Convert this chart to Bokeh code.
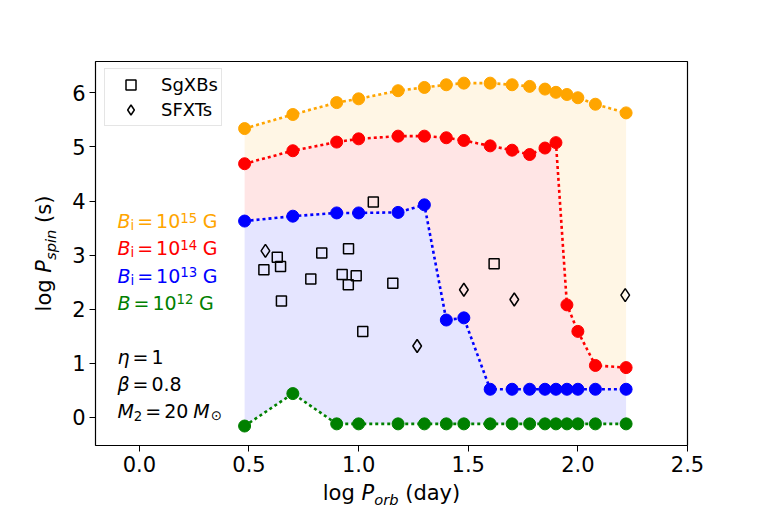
from bokeh.plotting import figure
from bokeh.models import (Label, Legend, LegendItem, FixedTicker, Range1d,
                          LinearAxis, BoxAnnotation)
from bokeh.embed import file_html
from bokeh.resources import INLINE

# ---------------- data ----------------
log_porb = [0.48, 0.70, 0.90, 1.00, 1.18, 1.30, 1.40, 1.48, 1.60, 1.70,
            1.78, 1.85, 1.90, 1.95, 2.00, 2.08, 2.22]
pspin_B15 = [5.34, 5.60, 5.82, 5.89, 6.04, 6.10, 6.15, 6.18, 6.18, 6.15,
             6.12, 6.07, 6.01, 5.97, 5.91, 5.79, 5.63]
pspin_B14 = [4.69, 4.93, 5.09, 5.15, 5.20, 5.20, 5.17, 5.12, 5.02, 4.94,
             4.86, 4.98, 5.08, 2.08, 1.59, 0.96, 0.92]
pspin_B13 = [3.63, 3.72, 3.78, 3.78, 3.79, 3.93, 1.80, 1.84, 0.52, 0.52,
             0.52, 0.52, 0.52, 0.52, 0.52, 0.52, 0.52]
pspin_B12 = [-0.16, 0.44, -0.12, -0.12, -0.12, -0.12, -0.12, -0.12, -0.12, -0.12,
             -0.12, -0.12, -0.12, -0.12, -0.12, -0.12, -0.12]

sgxb_porb = [0.568, 0.629, 0.644, 0.648, 0.782, 0.832, 0.925, 0.954, 0.953, 0.989,
             1.019, 1.067, 1.156, 1.618]
sgxb_pspin = [2.73, 2.96, 2.79, 2.15, 2.56, 3.04, 2.64, 3.12, 2.45, 2.62,
              1.59, 3.98, 2.48, 2.84]

sfxt_porb = [0.575, 1.267, 1.480, 1.710, 2.216]
sfxt_pspin = [3.08, 1.32, 2.36, 2.18, 2.26]

x_ticks = [0.0, 0.5, 1.0, 1.5, 2.0, 2.5]
x_tick_labels = ["0.0", "0.5", "1.0", "1.5", "2.0", "2.5"]
y_ticks = [0, 1, 2, 3, 4, 5, 6]
y_tick_labels = ["0", "1", "2", "3", "4", "5", "6"]

legend_labels = ["SgXBs", "SFXTs"]

FONT = "DejaVu Sans"

# axes box (data limits) and its place on the 763x509 canvas
XLIM = (-0.2, 2.5)
YLIM = (-0.52, 6.58)
W, H = 763, 509
BOX_L, BOX_R, BOX_T, BOX_B = 95, 687, 61, 445
sx = (BOX_R - BOX_L) / (XLIM[1] - XLIM[0])
sy = (BOX_B - BOX_T) / (YLIM[1] - YLIM[0])
x_range = Range1d(XLIM[0] - BOX_L / sx, XLIM[1] + (W - BOX_R) / sx)
y_range = Range1d(YLIM[0] - (H - BOX_B) / sy, YLIM[1] + BOX_T / sy)

# ---------------- figure ----------------
p = figure(width=W, height=H, output_backend="svg", toolbar_location=None,
           x_range=x_range, y_range=y_range,
           x_axis_location=None, y_axis_location=None, min_border=0)
p.xgrid.visible = False
p.ygrid.visible = False
p.outline_line_color = None
p.background_fill_color = "white"
p.border_fill_color = "white"

xaxis = LinearAxis(fixed_location=YLIM[0], bounds=XLIM)
yaxis = LinearAxis(fixed_location=XLIM[0], bounds=YLIM)
p.add_layout(xaxis, "below")
p.add_layout(yaxis, "left")
for ax, ticks, labels in ((xaxis, x_ticks, x_tick_labels), (yaxis, y_ticks, y_tick_labels)):
    ax.ticker = FixedTicker(ticks=ticks)
    ax.major_label_overrides = {t: l for t, l in zip(ticks, labels)}
    ax.minor_tick_line_color = None
    ax.major_tick_out = 6
    ax.major_tick_in = 0
    ax.major_tick_line_color = "black"
    ax.major_tick_line_width = 1
    ax.axis_line_color = None
    ax.major_label_text_font = FONT
    ax.major_label_text_font_size = "21px"
    ax.major_label_text_color = "black"
    ax.major_label_standoff = 4

p.add_layout(BoxAnnotation(left=XLIM[0], right=XLIM[1], bottom=YLIM[0], top=YLIM[1],
                           fill_color=None, fill_alpha=0, line_color="black",
                           line_alpha=1.0, line_width=1.2))

# ---------------- fills ----------------
p.varea(x=log_porb, y1=pspin_B12, y2=pspin_B13, fill_color="blue", fill_alpha=0.1)
p.varea(x=log_porb, y1=pspin_B13, y2=pspin_B14, fill_color="red", fill_alpha=0.1)
p.varea(x=log_porb, y1=pspin_B14, y2=pspin_B15, fill_color="orange", fill_alpha=0.1)

# ---------------- model tracks ----------------
for ys, col in ((pspin_B15, "orange"), (pspin_B14, "red"), (pspin_B13, "blue"), (pspin_B12, "green")):
    p.line(log_porb, ys, line_color=col, line_width=2.6, line_dash="3 3")
    p.scatter(log_porb, ys, marker="circle", size=12, fill_color=col, line_color=col)

# ---------------- observed sources ----------------
r_sg = p.scatter(sgxb_porb, sgxb_pspin, marker="square", size=10, fill_color=None,
                 line_color="black", line_width=1.5)
r_sf = p.scatter(sfxt_porb, sfxt_pspin, marker="diamond", size=13, fill_color=None,
                 line_color="black", line_width=1.5)

legend = Legend(items=[LegendItem(label=legend_labels[0], renderers=[r_sg]),
                       LegendItem(label=legend_labels[1], renderers=[r_sf])],
                location=(104, H - 126), margin=0, padding=3, spacing=0,
                glyph_width=45, glyph_height=25, label_standoff=8,
                label_text_font=FONT, label_text_font_size="18px",
                label_text_color="black",
                border_line_color="#cccccc", border_line_width=1,
                background_fill_color="white", background_fill_alpha=0.8)
p.add_layout(legend)

# ---------------- math-like text built from pieces ----------------
ADV = {" ": .318, "(": .390, ")": .390, ".": .318, "=": .838, "G": .775, "S": .635,
       "B": .686, "P": .603, "M": .863, "a": .613, "b": .635, "d": .635, "g": .635,
       "i": .278, "l": .278, "n": .634, "o": .612, "p": .635, "r": .411, "s": .521,
       "y": .592, "\u03b7": .634, "\u03b2": .636, "\u2299": .838}
BASE_FIX = 0.35  # Label's alphabetic anchor sits this many em low


def adv(text, size):
    return sum(ADV.get(c, .636) for c in text) * size


def math_run(x, y, pieces, color="black", angle=0.0, center=False):
    """pieces: (text, size_px, italic, baseline_shift_px, gap_before_px)"""
    total = sum(g + adv(t, s) for t, s, it, sh, g in pieces)
    cur = -total / 2 if center else 0.0
    for t, s, it, sh, g in pieces:
        cur += g
        up = sh + BASE_FIX * s
        if angle == 0:
            xo, yo = cur, up
        else:
            xo, yo = -up, cur
        p.add_layout(Label(x=x, y=y, x_offset=xo, y_offset=yo, text=t,
                           text_font=FONT, text_font_size=f"{s}px",
                           text_font_style="italic" if it else "normal",
                           text_color=color, text_align="left",
                           text_baseline="alphabetic",
                           angle=angle, angle_units="deg"))
        cur += adv(t, s)


F, S = 19, 13.3
field_rows = [("15", "orange", True, 3.5), ("14", "red", True, 3.0),
              ("13", "blue", True, 2.5), ("12", "green", False, 2.0)]
for expo, col, sub, yy in field_rows:
    pcs = [("B", F, True, 0, 0)]
    if sub:
        pcs.append(("i", S, False, -2.5, 0))
    pcs += [("=", F, False, 0, 3), ("10", F, False, 0, 3), (expo, S, False, 5.5, 0),
            ("G", F, False, 0, 5.5)]
    math_run(-0.1, yy, pcs, color=col)

math_run(-0.1, 1.0, [("\u03b7", F, True, 0, 0), ("=", F, False, 0, 3), ("1", F, False, 0, 3)])
math_run(-0.1, 0.5, [("\u03b2", F, True, 0, 0), ("=", F, False, 0, 3), ("0.8", F, False, 0, 3)])
math_run(-0.1, 0.0, [("M", F, True, 0, 0), ("2", S, False, -3, 0), ("=", F, False, 0, 3),
                     ("20", F, False, 0, 3), ("M", F, True, 0, 5), ("\u2299", S, False, -3, 1)])

# axis labels
AF, AS = 21, 14.7
x_mid = (XLIM[0] + XLIM[1]) / 2
y_mid = (YLIM[0] + YLIM[1]) / 2
math_run(x_mid, YLIM[0] - 55 / sy, [("log", AF, False, 0, 0), ("P", AF, True, 0, AF * .318),
                                    ("orb", AS, True, -4.5, 0), ("(day)", AF, False, 0, AF * .318)],
         center=True)
math_run(XLIM[0] - 44 / sx, y_mid, [("log", AF, False, 0, 0), ("P", AF, True, 0, AF * .318),
                                    ("spin", AS, True, -4.5, 0), ("(s)", AF, False, 0, AF * .318)],
         angle=90, center=True)

open("out.html", "w").write(file_html(p, INLINE))
